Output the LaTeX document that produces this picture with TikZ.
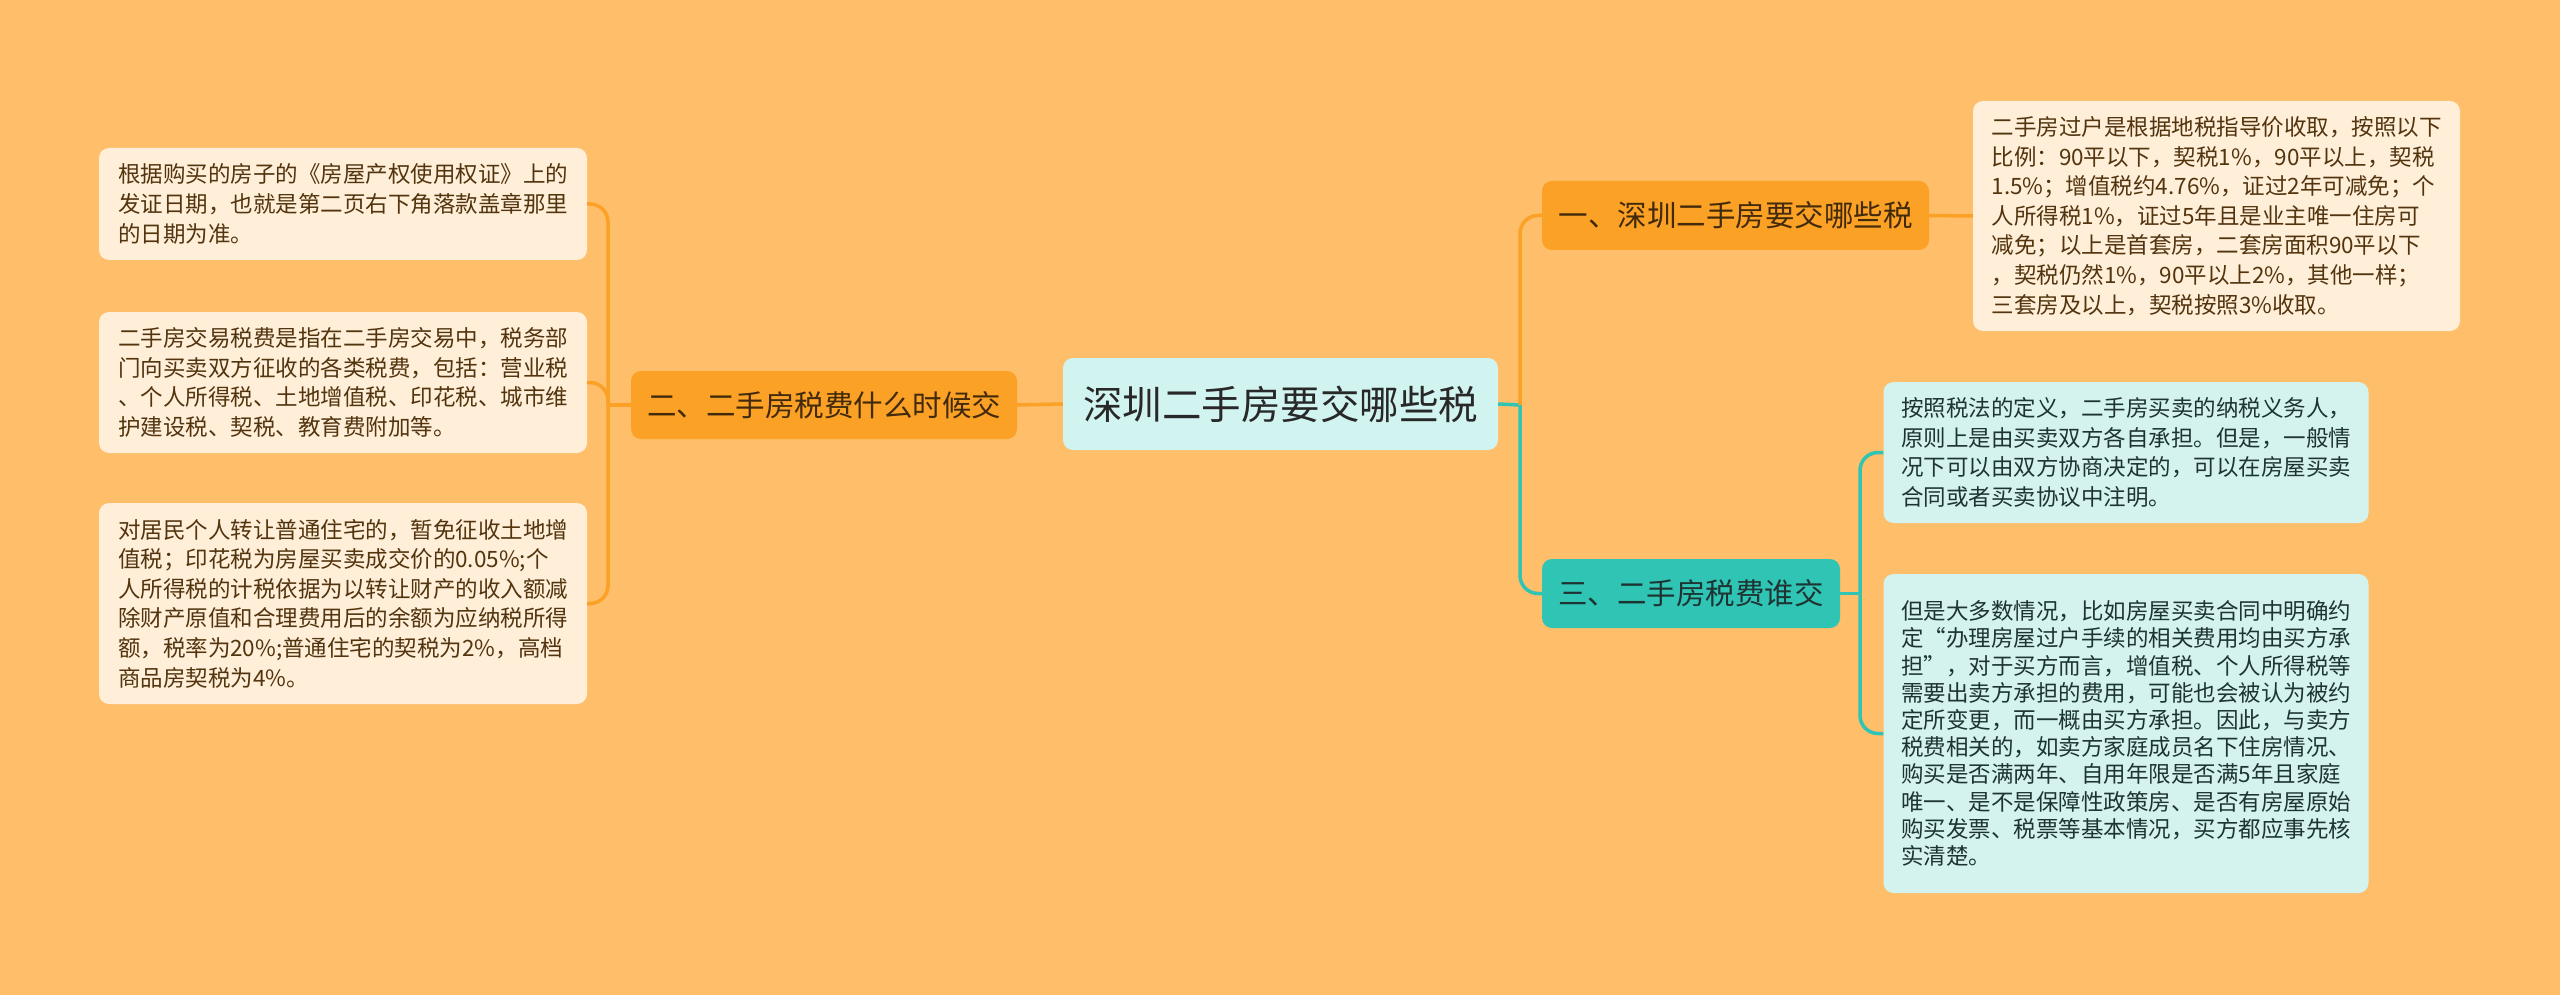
\documentclass[tikz,border=0pt]{standalone}
\usepackage{fontspec}
\newfontfamily\cjk{Noto Sans CJK SC}
\definecolor{bgc}{RGB}{254,190,106}
\definecolor{orb}{RGB}{250,161,38}
\definecolor{cream}{RGB}{255,238,216}
\definecolor{rootc}{RGB}{210,244,240}
\definecolor{tealb}{RGB}{47,196,180}
\definecolor{tealleaf}{RGB}{212,243,239}
\definecolor{brownt}{RGB}{82,52,14}
\definecolor{darkt}{RGB}{40,40,40}
\definecolor{tealtext}{RGB}{30,52,50}
\tikzset{
  box/.style={rounded corners=10pt, inner sep=0pt, align=center},
  rootbox/.style={box, fill=rootc, text=darkt, font=\cjk\fontsize{39.5}{44}\selectfont},
  branchO/.style={box, fill=orb, text=brownt!80!black, font=\cjk\fontsize{29.5}{34}\selectfont},
  branchT/.style={box, fill=tealb, text=tealtext, font=\cjk\fontsize{29.5}{34}\selectfont},
  leafO/.style={box, align=left, fill=cream, text=brownt, font=\cjk\fontsize{22.5}{29.6}\selectfont},
  leafT/.style={box, align=left, fill=tealleaf, text=tealtext, font=\cjk\fontsize{22.5}{29.6}\selectfont},
  linkO/.style={draw=orb, line width=3.5pt, rounded corners=18pt},
  linkT/.style={draw=tealb, line width=3.5pt, rounded corners=18pt}
}
\begin{document}
\begin{tikzpicture}[x=1pt,y=-1pt]
\fill[bgc] (0,0) rectangle (2560,995);
\useasboundingbox (0,0) rectangle (2560,995);

% nodes
\node[rootbox, minimum width=435pt, minimum height=92pt] (root) at (1280.5,404) {深圳二手房要交哪些税};
\node[branchO, minimum width=386pt, minimum height=68pt] (b2) at (824,405) {二、二手房税费什么时候交};
\node[branchO, minimum width=387pt, minimum height=69pt] (b1) at (1735.5,215.5) {一、深圳二手房要交哪些税};
\node[branchT, minimum width=298pt, minimum height=69pt] (b3) at (1691,593.5) {三、二手房税费谁交};

\node[leafO, minimum width=488pt, minimum height=112pt] (L1) at (343,204) {根据购买的房子的《房屋产权使用权证》上的\\
发证日期，也就是第二页右下角落款盖章那里\\
的日期为准。};
\node[leafO, minimum width=488pt, minimum height=141pt] (L2) at (343,382.5) {二手房交易税费是指在二手房交易中，税务部\\
门向买卖双方征收的各类税费，包括：营业税\\
、个人所得税、土地增值税、印花税、城市维\\
护建设税、契税、教育费附加等。};
\node[leafO, minimum width=488pt, minimum height=201pt] (L3) at (343,603.5) {对居民个人转让普通住宅的，暂免征收土地增\\
值税；印花税为房屋买卖成交价的0.05\%;个\\
人所得税的计税依据为以转让财产的收入额减\\
除财产原值和合理费用后的余额为应纳税所得\\
额，税率为20\%;普通住宅的契税为2\%，高档\\
商品房契税为4\%。};

\node[leafO, minimum width=487pt, minimum height=230pt] (R1) at (2216.5,216) {二手房过户是根据地税指导价收取，按照以下\\
比例：90平以下，契税1\%，90平以上，契税\\
1.5\%；增值税约4.76\%，证过2年可减免；个\\
人所得税1\%，证过5年且是业主唯一住房可\\
减免；以上是首套房，二套房面积90平以下\\
，契税仍然1\%，90平以上2\%，其他一样；\\
三套房及以上，契税按照3\%收取。};
\node[leafT, minimum width=485pt, minimum height=141pt] (R2) at (2126,452.5) {按照税法的定义，二手房买卖的纳税义务人，\\
原则上是由买卖双方各自承担。但是，一般情\\
况下可以由双方协商决定的，可以在房屋买卖\\
合同或者买卖协议中注明。};
\node[leafT, minimum width=485pt, minimum height=319pt, font=\cjk\fontsize{22.5}{27.2}\selectfont] (R3) at (2126,733.5) {但是大多数情况，比如房屋买卖合同中明确约\\
定“办理房屋过户手续的相关费用均由买方承\\
担”，对于买方而言，增值税、个人所得税等\\
需要出卖方承担的费用，可能也会被认为被约\\
定所变更，而一概由买方承担。因此，与卖方\\
税费相关的，如卖方家庭成员名下住房情况、\\
购买是否满两年、自用年限是否满5年且家庭\\
唯一、是不是保障性政策房、是否有房屋原始\\
购买发票、税票等基本情况，买方都应事先核\\
实清楚。};

% junctions
\coordinate (jl) at (608,405);
\coordinate (jr) at (1520,405);
\coordinate (jt) at (1860,593.5);

% connectors
\draw[linkO] (root.west) -- (b2.east);
\draw[linkO] (b2.west) -- (jl);
\draw[linkO] (jl) |- (L1.east);
\draw[linkO] (jl) |- (L2.east);
\draw[linkO] (jl) |- (L3.east);

\draw[linkT] (root.east) -- (jr);
\draw[linkO] (jr) |- (b1.west);
\draw[linkT] (jr) |- (b3.west);
\draw[linkO] (b1.east) -- (R1.west);

\draw[linkT] (b3.east) -- (jt);
\draw[linkT] (jt) |- (R2.west);
\draw[linkT] (jt) |- (R3.west);
\end{tikzpicture}
\end{document}
